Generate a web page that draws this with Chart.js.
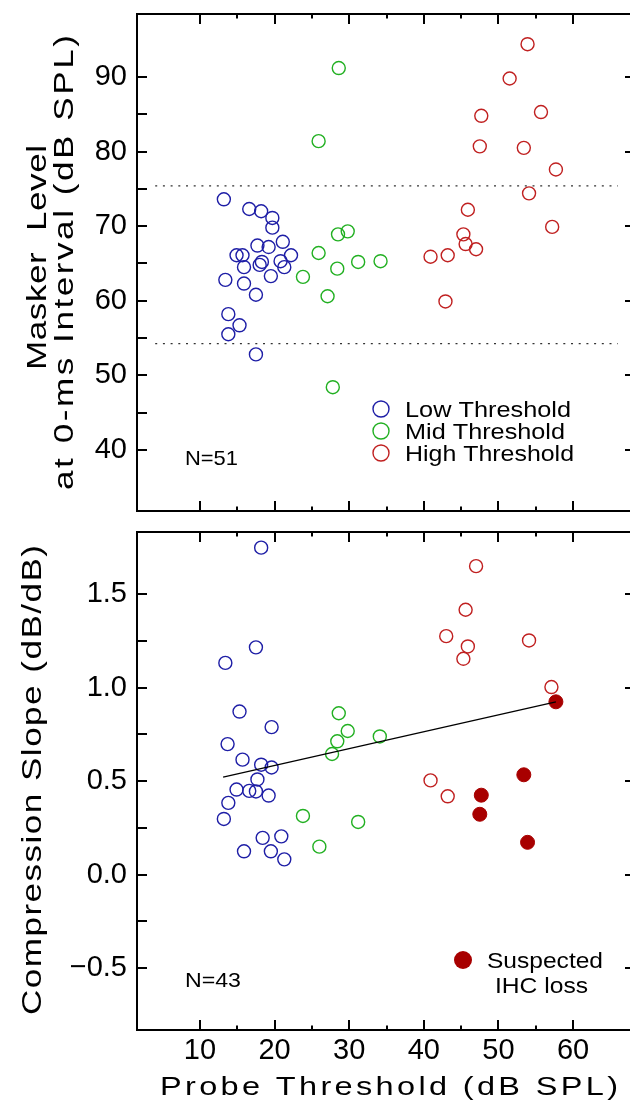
<!DOCTYPE html>
<html>
<head>
<meta charset="utf-8">
<script src="https://cdn.jsdelivr.net/npm/chart.js@4.4.1/dist/chart.umd.min.js"></script>
<style>
  html, body { margin: 0; padding: 0; background: #fff; overflow: hidden; }
  #wrap { position: relative; width: 630px; height: 1103px; overflow: hidden; }
  .panel { position: absolute; left: 0; width: 640px; }
  #topPanel { top: 0; height: 520px; }
  #botPanel { top: 520px; height: 583px; }
</style>
</head>
<body>
<div id="wrap">
  <div class="panel" id="topPanel"><canvas id="maskerChart" width="640" height="520"></canvas></div>
  <div class="panel" id="botPanel"><canvas id="slopeChart" width="640" height="583"></canvas></div>
</div>
<script>
// ---- masker level at 0-ms interval (top panel), N=51 ----
const lowProbe   = [13.2, 16.6, 18.2, 19.7, 19.7, 21.1, 17.7, 19.2, 14.9, 15.7, 22.2, 20.8, 18.3, 18.0, 15.9, 21.3, 19.5, 13.4, 15.9, 17.5, 13.8, 15.3, 13.8, 17.5];
const lowMasker  = [73.6, 72.3, 72.0, 71.1, 69.8, 67.9, 67.4, 67.2, 66.1, 66.1, 66.1, 65.3, 65.2, 64.8, 64.5, 64.5, 63.3, 62.8, 62.3, 60.8, 58.2, 56.7, 55.5, 52.8];
const midProbe   = [28.6, 25.9, 28.5, 29.8, 25.9, 31.2, 34.2, 23.8, 28.4, 27.1, 27.8];
const midMasker  = [91.2, 81.4, 68.9, 69.3, 66.4, 65.2, 65.3, 63.2, 64.3, 60.6, 48.4];
const highProbe  = [53.9, 51.5, 47.7, 55.7, 47.5, 53.4, 57.7, 54.1, 45.9, 57.2, 45.3, 45.6, 47.0, 40.9, 43.2, 42.9];
const highMasker = [94.4, 89.8, 84.8, 85.3, 80.7, 80.5, 77.6, 74.4, 72.2, 69.9, 68.9, 67.6, 66.9, 65.9, 66.1, 59.9];
const criterionLevels = [75.4, 54.25];
const criterionSpan   = [4, 66];

// ---- compression slope (bottom panel), N=43 ----
const lowProbeB  = [18.2, 17.5, 13.4, 15.3, 19.6, 13.7, 15.7, 18.2, 19.6, 17.7, 14.9, 16.6, 17.5, 19.2, 13.8, 13.2, 18.4, 20.9, 15.9, 19.5, 21.3];
const lowSlope   = [1.748, 1.215, 1.132, 0.872, 0.789, 0.698, 0.615, 0.588, 0.573, 0.509, 0.455, 0.448, 0.445, 0.423, 0.384, 0.298, 0.197, 0.205, 0.125, 0.125, 0.082];
const midProbeB  = [28.6, 29.8, 28.4, 27.7, 34.1, 23.8, 26.0, 31.2];
const midSlope   = [0.863, 0.768, 0.713, 0.645, 0.739, 0.314, 0.150, 0.282];
const highProbeB = [47.0, 45.6, 43.0, 45.9, 45.3, 54.1, 57.1, 40.9, 43.2];
const highSlope  = [1.649, 1.416, 1.275, 1.220, 1.154, 1.252, 1.003, 0.504, 0.419];
const ihcProbe   = [57.7, 53.4, 47.7, 47.5, 53.9];
const ihcSlope   = [0.924, 0.534, 0.425, 0.323, 0.173];
const fitProbe   = [13.1, 57.7];
const fitSlope   = [0.521, 0.924];

// ---- axes ----
const probeTicks      = [10, 20, 30, 40, 50, 60];
const probeMinorTicks = [15, 25, 35, 45, 55];
const maskerTicks     = [40, 50, 60, 70, 80, 90];
const maskerMinor     = [45, 55, 65, 75, 85];
const slopeTicks      = [-0.5, 0, 0.5, 1.0, 1.5];
const slopeMinor      = [-0.25, 0.25, 0.75, 1.25];

const BLUE = '#1e1ea6';
const GREEN = '#22b022';
const RED = '#c02020';
const DARKRED = '#a80000';
const FONT = '"Liberation Sans", Arial, sans-serif';

Chart.defaults.font.family = FONT;
Chart.defaults.color = '#000';

const zip = (xs, ys) => xs.map((x, i) => ({ x: x, y: ys[i] }));

function openCircles(label, xs, ys, color) {
  return {
    label: label,
    data: zip(xs, ys),
    borderColor: color,
    backgroundColor: 'rgba(0,0,0,0)',
    borderWidth: 1.4,
    pointRadius: 6.5,
    pointStyle: 'circle'
  };
}

// the plot lettering is wide: stretch glyphs a bit, then spread them
function wideText(ctx, str, x, y, size, width, angle) {
  ctx.save();
  ctx.translate(x, y);
  if (angle) ctx.rotate(angle);
  ctx.font = size + 'px ' + FONT;
  ctx.textAlign = 'left';
  ctx.textBaseline = 'alphabetic';
  ctx.fillStyle = '#000';
  const spacing = 'letterSpacing' in ctx;
  if (spacing) ctx.letterSpacing = '0px';
  const natural = ctx.measureText(str).width;
  let sx = Math.min(1.3, width / natural);
  if (!spacing) sx = width / natural;
  ctx.scale(sx, 1);
  if (spacing && str.length > 1) {
    ctx.letterSpacing = Math.max(0, (width / sx - natural) / (str.length - 1)) + 'px';
  }
  ctx.fillText(str, 0, 0);
  ctx.restore();
}

// boxed frame with inward ticks on every side
function frameTicks(leftVals, rightVals) {
  return {
    id: 'frameTicks',
    afterDraw(chart) {
      const ctx = chart.ctx;
      const a = chart.chartArea;
      const xs = chart.scales.x, ys = chart.scales.y;
      const L = a.left, R = a.right, T = a.top, B = a.bottom;
      ctx.save();
      ctx.fillStyle = '#000';
      ctx.fillRect(L - 1, T - 1, R - L + 2, 2);
      ctx.fillRect(L - 1, B - 1, R - L + 2, 2);
      ctx.fillRect(L - 1, T - 1, 2, B - T + 2);
      ctx.fillRect(R - 1, T - 1, 2, B - T + 2);
      const xMark = (v, len) => {
        const p = Math.round(xs.getPixelForValue(v));
        ctx.fillRect(p - 1, T, 2, len);
        ctx.fillRect(p - 1, B - len, 2, len);
      };
      probeTicks.forEach(v => xMark(v, 10));
      probeMinorTicks.forEach(v => xMark(v, 4.5));
      leftVals.forEach(v => {
        const p = Math.round(ys.getPixelForValue(v));
        ctx.fillRect(L, p - 1, 10, 2);
      });
      rightVals.forEach(v => {
        const p = Math.round(ys.getPixelForValue(v));
        ctx.fillRect(R - 10, p - 1, 10, 2);
      });
      ctx.restore();
    }
  };
}

// titles, legend keys and sample-size notes
function lettering(marks, texts) {
  return {
    id: 'lettering',
    afterDraw(chart) {
      const ctx = chart.ctx;
      marks.forEach(m => {
        ctx.save();
        ctx.beginPath();
        ctx.arc(m.x, m.y, m.r, 0, Math.PI * 2);
        if (m.solid) { ctx.fillStyle = m.color; ctx.fill(); }
        else { ctx.strokeStyle = m.color; ctx.lineWidth = 1.4; ctx.stroke(); }
        ctx.restore();
      });
      texts.forEach(t => wideText(ctx, t.s, t.x, t.y, t.size, t.w, t.rot ? -Math.PI / 2 : 0));
    }
  };
}

const hiddenGrid = { display: false, drawTicks: false };
const noPad = s => { s.paddingTop = 0; s.paddingBottom = 0; s.paddingLeft = 0; s.paddingRight = 0; };

new Chart(document.getElementById('maskerChart'), {
  type: 'scatter',
  data: {
    datasets: [
      ...criterionLevels.map(lv => ({
        type: 'line',
        data: criterionSpan.map(x => ({ x: x, y: lv })),
        borderColor: '#333',
        borderWidth: 1.4,
        borderDash: [2, 5.7],
        pointRadius: 0,
        fill: false
      })),
      openCircles('Low Threshold', lowProbe, lowMasker, BLUE),
      openCircles('Mid Threshold', midProbe, midMasker, GREEN),
      openCircles('High Threshold', highProbe, highMasker, RED)
    ]
  },
  options: {
    responsive: false,
    animation: false,
    layout: { autoPadding: false, padding: { top: 14, right: 5, bottom: 9, left: 0 } },
    plugins: { legend: { display: false }, tooltip: { enabled: false } },
    scales: {
      x: { type: 'linear', display: false, min: 1.56, max: 68.3 },
      y: {
        type: 'linear', min: 31.8, max: 98.45,
        grid: hiddenGrid, border: { display: false },
        afterBuildTicks: s => { s.ticks = maskerTicks.map(v => ({ value: v })); },
        afterFit: s => { s.width = 137; noPad(s); },
        ticks: { font: { size: 29 }, padding: 10, callback: v => String(v) }
      }
    }
  },
  plugins: [
    frameTicks(maskerTicks.concat(maskerMinor), maskerTicks),
    lettering(
      [
        { x: 381, y: 409, r: 8, color: BLUE },
        { x: 381, y: 431, r: 8, color: GREEN },
        { x: 381, y: 453, r: 8, color: RED }
      ],
      [
        { s: 'Low Threshold', x: 405, y: 417, size: 22, w: 166 },
        { s: 'Mid Threshold', x: 405, y: 439, size: 22, w: 160 },
        { s: 'High Threshold', x: 405, y: 461, size: 22, w: 169 },
        { s: 'N=51', x: 185, y: 465, size: 21, w: 53 },
        { s: 'Masker  Level', x: 46, y: 370, size: 27, w: 225, rot: true },
        { s: 'at 0-ms Interval (dB SPL)', x: 73, y: 490, size: 27, w: 455, rot: true }
      ]
    )
  ]
});

new Chart(document.getElementById('slopeChart'), {
  type: 'scatter',
  data: {
    datasets: [
      {
        type: 'line',
        data: zip(fitProbe, fitSlope),
        borderColor: '#000',
        borderWidth: 1.3,
        pointRadius: 0,
        fill: false
      },
      openCircles('Low Threshold', lowProbeB, lowSlope, BLUE),
      openCircles('Mid Threshold', midProbeB, midSlope, GREEN),
      openCircles('High Threshold', highProbeB, highSlope, RED),
      {
        label: 'Suspected IHC loss',
        data: zip(ihcProbe, ihcSlope),
        borderColor: DARKRED,
        backgroundColor: DARKRED,
        borderWidth: 1,
        pointRadius: 7,
        pointStyle: 'circle'
      }
    ]
  },
  options: {
    responsive: false,
    animation: false,
    layout: { autoPadding: false, padding: { top: 12, right: 5, bottom: 0, left: 0 } },
    plugins: { legend: { display: false }, tooltip: { enabled: false } },
    scales: {
      x: {
        type: 'linear', min: 1.56, max: 68.3,
        grid: hiddenGrid, border: { display: false },
        afterBuildTicks: s => { s.ticks = probeTicks.map(v => ({ value: v })); },
        afterFit: s => { s.height = 73; noPad(s); },
        ticks: { font: { size: 29 }, padding: 4, maxRotation: 0, callback: v => String(v) }
      },
      y: {
        type: 'linear', min: -0.83, max: 1.8316,
        grid: hiddenGrid, border: { display: false },
        afterBuildTicks: s => { s.ticks = slopeTicks.map(v => ({ value: v })); },
        afterFit: s => { s.width = 137; noPad(s); },
        ticks: {
          font: { size: 29 }, padding: 10,
          callback: v => (v < 0 ? '\u2212' : '') + Math.abs(v).toFixed(1)
        }
      }
    }
  },
  plugins: [
    frameTicks(slopeTicks.concat(slopeMinor), slopeTicks),
    lettering(
      [{ x: 463, y: 440, r: 9, color: DARKRED, solid: true }],
      [
        { s: 'Suspected', x: 487, y: 448, size: 22, w: 116 },
        { s: 'IHC loss', x: 495, y: 473, size: 22, w: 93 },
        { s: 'N=43', x: 185, y: 467, size: 21, w: 56 },
        { s: 'Probe Threshold (dB SPL)', x: 160, y: 575, size: 25, w: 458 },
        { s: 'Compression Slope (dB/dB)', x: 41, y: 495, size: 27, w: 470, rot: true }
      ]
    )
  ]
});
</script>
</body>
</html>
